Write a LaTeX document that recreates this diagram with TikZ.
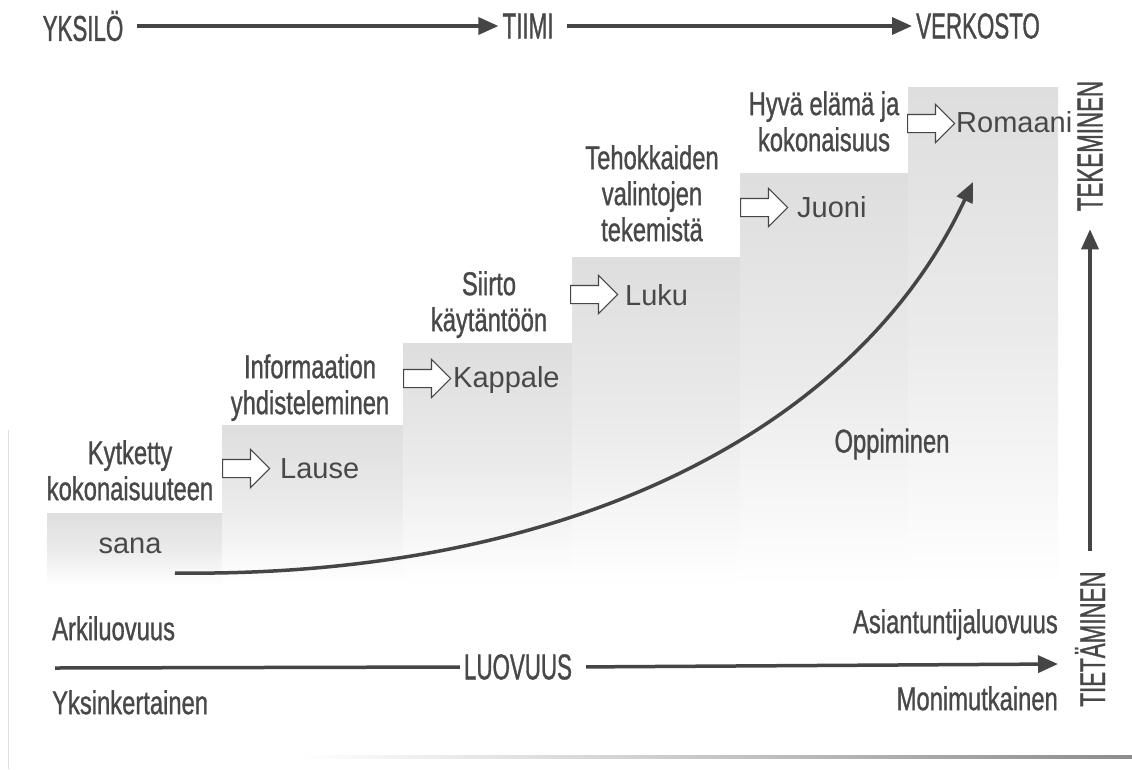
\documentclass[tikz,border=0pt]{standalone}
\usepackage{fontspec}
\setmainfont{Liberation Sans}
\newfontfamily\condfont[FakeStretch=0.72,FakeBold=0.9]{Liberation Sans}
\newfontfamily\capfont[FakeStretch=0.62,FakeBold=0.9]{Liberation Sans}
\usetikzlibrary{shapes.arrows,arrows.meta}
\definecolor{ink}{HTML}{454545}
\definecolor{txt}{HTML}{484848}
\begin{document}
\begin{tikzpicture}[x=1pt,y=-1pt,
  cond/.style={font=\condfont\fontsize{33}{36}\selectfont, text=txt, align=center, inner sep=0pt},
  caps/.style={font=\capfont\fontsize{36}{40}\selectfont, text=txt, inner sep=0pt},
  word/.style={font=\fontsize{29}{32}\selectfont, text=txt, inner sep=0pt},
  barrow/.style={single arrow, draw=ink, line width=1.1pt, fill=white, minimum height=47pt,
    minimum width=37pt, single arrow head extend=10pt, inner sep=8.5pt, anchor=west},
  axis/.style={draw=ink, line width=3.5pt, -{Triangle[length=20pt,width=17pt]}},
  stepcol/.style={top color=black!13, bottom color=white, middle color=black!8},
]
\useasboundingbox (0,0) rectangle (1132,769);
\fill[white] (0,0) rectangle (1132,769);

% scan edges
\draw[black!12, line width=1pt] (8,430) -- (8,769);
\shade[left color=white, right color=black!45] (300,755.5) rectangle (1132,758.5);

% staircase columns
\shade[stepcol] (47,513) rectangle (222,585);
\shade[stepcol] (222,425) rectangle (403,585);
\shade[stepcol] (403,343) rectangle (572,585);
\shade[stepcol] (572,257) rectangle (740,585);
\shade[stepcol] (740,173) rectangle (908,585);
\shade[stepcol] (908,87) rectangle (1058,585);

% step texts
\node[word, anchor=base] (sana) at (130,553) {sana};

\node[cond, anchor=north] (l1) at (130,440) {Kytketty\\kokonaisuuteen};
\node[barrow] (a1) at (222,468.5) {};
\node[word, anchor=base west] (lause) at (280,478) {Lause};

\node[cond, anchor=north] (l2) at (310,354) {Informaation\\yhdisteleminen};
\node[barrow] (a2) at (403,378.5) {};
\node[word, anchor=base west] (kappale) at (453,387) {Kappale};

\node[cond, anchor=north] (l3) at (489,271) {Siirto\\käytäntöön};
\node[barrow] (a3) at (570,294.5) {};
\node[word, anchor=base west] (luku) at (625,305) {Luku};

\node[cond, anchor=north] (l4) at (652,145) {Tehokkaiden\\valintojen\\tekemistä};
\node[barrow] (a4) at (740,207.5) {};
\node[word, anchor=base west] (juoni) at (797,217) {Juoni};

\node[cond, anchor=north] (l5) at (824,91) {Hyvä elämä ja\\kokonaisuus};
\node[barrow] (a5) at (907,123.5) {};
\node[word, anchor=base west] (romaani) at (956,132) {Romaani};

% learning curve
\coordinate (c0) at (175,573);
\coordinate (c1) at (973,182);
\draw[ink, line width=3.5pt, -{Triangle[length=20pt,width=17pt]}]
  (c0) .. controls (560,578) and (855,435) .. (c1);
\node[cond, anchor=center] (opp) at (892,444) {Oppiminen};

% top row
\node[caps] (yksilo) at (83,26) {YKSILÖ};
\node[caps] (tiimi) at (528,26) {TIIMI};
\node[caps] (verkosto) at (978,26) {VERKOSTO};
\draw[axis, shorten <=13pt, shorten >=4pt] (yksilo.east) -- (tiimi.west);
\draw[axis, shorten <=13pt, shorten >=4pt] (tiimi.east) -- (verkosto.west);

% bottom row
\node[cond, anchor=north west] (arki) at (52,616) {Arkiluovuus};
\node[cond, anchor=north west] (yksi) at (52,690) {Yksinkertainen};
\node[cond, anchor=north east] (asi) at (1058,609) {Asiantuntijaluovuus};
\node[cond, anchor=north east] (moni) at (1058,686) {Monimutkainen};
\node[caps] (luovuus) at (518,667) {LUOVUUS};
\coordinate (b0) at (55,668);
\coordinate (b1) at (1058,664);
\draw[ink, line width=3.5pt, shorten >=4pt] (b0) -- (luovuus.west);
\draw[axis, shorten <=14pt] (luovuus.east) -- (b1);

% right column
\node[caps, rotate=90] (tek) at (1090,146) {TEKEMINEN};
\node[caps, rotate=90] (tiet) at (1090,639) {TIETÄMINEN};
\draw[axis, shorten <=20pt, shorten >=18pt] (tiet.east) -- (tek.west);
\end{tikzpicture}
\end{document}
